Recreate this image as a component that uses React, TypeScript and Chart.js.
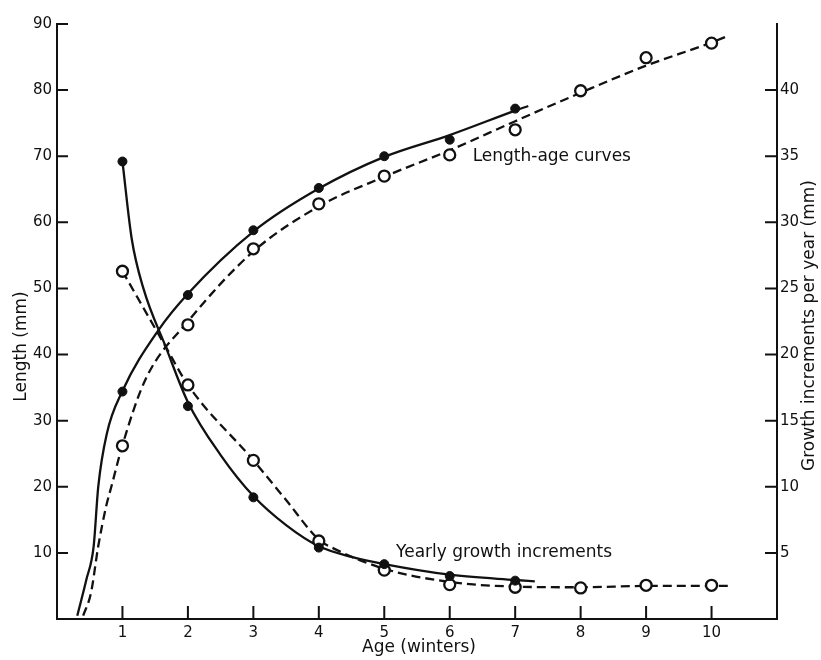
import React, { useEffect, useRef } from "react";
import { Chart, registerables } from "chart.js";

Chart.register(...registerables);

// ---- Data ----
const ageFilled = [1, 2, 3, 4, 5, 6, 7];
const ageOpen = [1, 2, 3, 4, 5, 6, 7, 8, 9, 10];

// Length (mm), left axis
const lengthFilled = [34.4, 49.0, 58.8, 65.2, 70.0, 72.5, 77.2];
const lengthOpen = [26.2, 44.5, 56.0, 62.8, 67.0, 70.2, 74.0, 79.9, 84.9, 87.1];

// Growth increments per year (mm), right axis
const growthFilled = [34.6, 16.1, 9.2, 5.4, 4.15, 3.25, 2.9];
const growthOpen = [26.3, 17.7, 12.0, 5.9, 3.7, 2.6, 2.4, 2.35, 2.55, 2.55];

// Hand-drawn fitted curves
const lengthSolidCurveX = [0.31, 0.45, 0.56, 0.63, 0.76, 1, 1.55, 2, 3, 4, 5, 6, 7, 7.2];
const lengthSolidCurveY = [0.5, 6, 11, 20, 28, 34.5, 43.7, 49.2, 58.6, 65.1, 69.9, 73.2, 76.9, 77.6];
const lengthDashedCurveX = [0.4, 0.52, 0.63, 0.75, 0.83, 1, 1.35, 2, 3, 4, 5, 6, 7, 8, 9, 10, 10.25];
const lengthDashedCurveY = [0.5, 4, 11, 17, 20, 26.3, 36.2, 45, 55.6, 62.4, 66.9, 70.9, 75.3, 79.6, 83.7, 87.2, 88.2];
const growthSolidCurveX = [1, 1.14, 1.32, 1.66, 2, 2.5, 3, 3.5, 4, 4.5, 5, 6, 7, 7.3];
const growthSolidCurveY = [34.6, 28.8, 25.0, 20.6, 16.4, 12.4, 9.3, 7.1, 5.5, 4.7, 4.15, 3.35, 2.95, 2.85];
const growthDashedCurveX = [1, 1.66, 2, 3, 3.5, 4, 4.2, 5, 6, 7, 8, 9, 10, 10.3];
const growthDashedCurveY = [26.3, 20.6, 17.7, 12.0, 9.0, 6.0, 5.4, 3.8, 2.8, 2.45, 2.4, 2.5, 2.5, 2.5];

// Tick values
const xTickValues = [1, 2, 3, 4, 5, 6, 7, 8, 9, 10];
const yLeftTickValues = [10, 20, 30, 40, 50, 60, 70, 80, 90];
const yRightTickValues = [5, 10, 15, 20, 25, 30, 35, 40];

// Text
const xTitle = "Age (winters)";
const yLeftTitle = "Length (mm)";
const yRightTitle = "Growth increments per year (mm)";
const annotations = [
  { text: "Length-age curves", x: 6.35, y: 69.9 },
  { text: "Yearly growth increments", x: 5.18, y: 10.1 },
];

const FONT = "DejaVu Sans";
const INK = "#111";

const zip = (xs: number[], ys: number[]) => xs.map((x, i) => ({ x, y: ys[i] }));

const decorPlugin = {
  id: "decor",
  afterDraw(chart: any) {
    const ctx = chart.ctx as CanvasRenderingContext2D;
    const xs = chart.scales.x;
    const yl = chart.scales.y;
    const yr = chart.scales.y2;
    const area = chart.chartArea;
    ctx.save();
    ctx.strokeStyle = INK;
    ctx.lineWidth = 2;
    ctx.beginPath();
    xTickValues.forEach((v) => {
      const px = xs.getPixelForValue(v);
      ctx.moveTo(px, area.bottom);
      ctx.lineTo(px, area.bottom - 13);
    });
    yLeftTickValues.forEach((v) => {
      const py = yl.getPixelForValue(v);
      ctx.moveTo(area.left, py);
      ctx.lineTo(area.left + 11, py);
    });
    yRightTickValues.forEach((v) => {
      const py = yr.getPixelForValue(v);
      ctx.moveTo(area.right, py);
      ctx.lineTo(area.right - 12, py);
    });
    ctx.stroke();

    ctx.fillStyle = INK;
    // annotations
    ctx.font = `17px '${FONT}'`;
    ctx.textAlign = "left";
    ctx.textBaseline = "middle";
    annotations.forEach((a) => {
      ctx.fillText(a.text, xs.getPixelForValue(a.x), yl.getPixelForValue(a.y));
    });

    // axis titles
    ctx.font = `17px '${FONT}'`;
    ctx.textAlign = "center";
    ctx.textBaseline = "alphabetic";
    ctx.fillText(xTitle, (area.left + area.right) / 2 + 2, chart.height - 8);

    ctx.textBaseline = "middle";
    ctx.save();
    ctx.translate(22, (area.top + area.bottom) / 2 + 25);
    ctx.rotate(-Math.PI / 2);
    ctx.fillText(yLeftTitle, 0, 0);
    ctx.restore();

    ctx.save();
    ctx.translate(chart.width - 11, (area.top + area.bottom) / 2 + 4);
    ctx.rotate(-Math.PI / 2);
    ctx.fillText(yRightTitle, 0, 0);
    ctx.restore();

    ctx.restore();
  },
};

export default function App() {
  const ref = useRef<HTMLCanvasElement | null>(null);

  useEffect(() => {
    if (!ref.current) return;
    Chart.defaults.font.family = FONT;

    const curve = (data: { x: number; y: number }[], dashed: boolean, axis: string) => ({
      data,
      yAxisID: axis,
      showLine: true,
      borderColor: INK,
      borderWidth: 2.3,
      borderDash: dashed ? [9, 5] : [],
      pointRadius: 0,
      pointHoverRadius: 0,
      fill: false,
      cubicInterpolationMode: "monotone" as const,
      order: 10,
    });
    const filledPts = (data: { x: number; y: number }[], axis: string) => ({
      data,
      yAxisID: axis,
      showLine: false,
      pointRadius: 4.5,
      pointBackgroundColor: INK,
      pointBorderColor: INK,
      pointBorderWidth: 1,
      order: 1,
    });
    const openPts = (data: { x: number; y: number }[], axis: string) => ({
      data,
      yAxisID: axis,
      showLine: false,
      pointRadius: 5.5,
      pointBackgroundColor: "#fff",
      pointBorderColor: INK,
      pointBorderWidth: 2.3,
      order: 1,
    });

    const chart = new Chart(ref.current, {
      type: "scatter",
      data: {
        datasets: [
          filledPts(zip(ageFilled, lengthFilled), "y"),
          openPts(zip(ageOpen, lengthOpen), "y"),
          filledPts(zip(ageFilled, growthFilled), "y2"),
          openPts(zip(ageOpen, growthOpen), "y2"),
          curve(zip(lengthSolidCurveX, lengthSolidCurveY), false, "y"),
          curve(zip(lengthDashedCurveX, lengthDashedCurveY), true, "y"),
          curve(zip(growthSolidCurveX, growthSolidCurveY), false, "y2"),
          curve(zip(growthDashedCurveX, growthDashedCurveY), true, "y2"),
        ] as any,
      },
      options: {
        responsive: false,
        animation: false,
        layout: { padding: { top: 24, left: 0, right: 0, bottom: 0 } },
        plugins: {
          legend: { display: false },
          tooltip: { enabled: false },
        },
        scales: {
          x: {
            type: "linear",
            min: 0,
            max: 11,
            grid: { display: false, drawTicks: false },
            border: { display: true, color: INK, width: 2 },
            afterBuildTicks: (s: any) => {
              s.ticks = xTickValues.map((v) => ({ value: v }));
            },
            afterFit: (s: any) => {
              s.height = 41;
            },
            ticks: {
              color: INK,
              font: { family: FONT, size: 15 },
              padding: 5,
              maxRotation: 0,
              autoSkip: false,
            },
          },
          y: {
            type: "linear",
            position: "left",
            min: 0,
            max: 90,
            grid: { display: false, drawTicks: false },
            border: { display: true, color: INK, width: 2 },
            afterBuildTicks: (s: any) => {
              s.ticks = yLeftTickValues.map((v) => ({ value: v }));
            },
            afterFit: (s: any) => {
              s.width = 57;
            },
            ticks: {
              color: INK,
              font: { family: FONT, size: 15 },
              padding: 5,
              autoSkip: false,
            },
          },
          y2: {
            type: "linear",
            position: "right",
            min: 0,
            max: 45,
            grid: { display: false, drawTicks: false },
            border: { display: true, color: INK, width: 2 },
            afterBuildTicks: (s: any) => {
              s.ticks = yRightTickValues.map((v) => ({ value: v }));
            },
            afterFit: (s: any) => {
              s.width = 44;
            },
            ticks: {
              color: INK,
              font: { family: FONT, size: 15 },
              padding: 3,
              autoSkip: false,
            },
          },
        },
      } as any,
      plugins: [decorPlugin],
    });

    return () => chart.destroy();
  }, []);

  return (
    <div style={{ position: "fixed", left: 0, top: 0, width: 821, height: 660, background: "#fff" }}>
      <canvas ref={ref} width={821} height={660} style={{ width: 821, height: 660, display: "block" }} />
    </div>
  );
}
